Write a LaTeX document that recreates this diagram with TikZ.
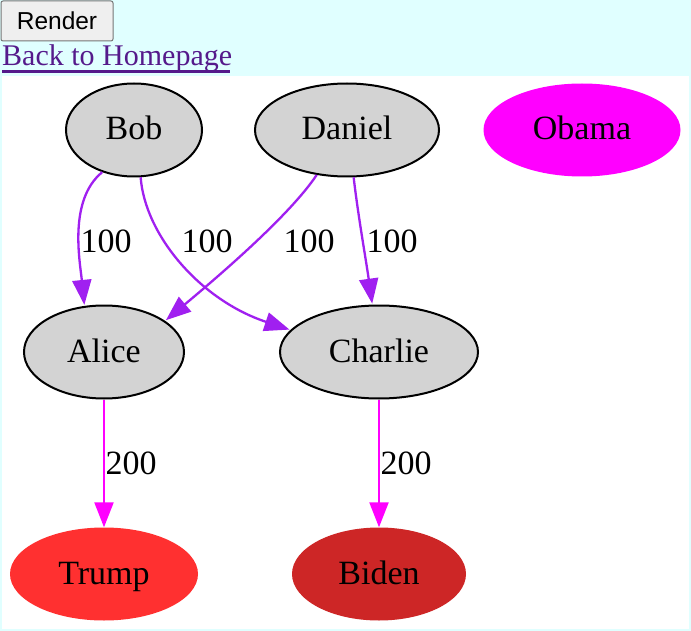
\documentclass[tikz,border=0pt]{standalone}
\usepackage{fontspec}
\setmainfont{Liberation Serif}
\newfontfamily\btnfont{Liberation Sans}
\usetikzlibrary{arrows.meta,shapes.geometric}
\definecolor{pagebg}{HTML}{E0FFFF}
\definecolor{nodegray}{HTML}{D3D3D3}
\definecolor{edgepurple}{HTML}{A020F0}
\definecolor{edgemag}{HTML}{FF00FF}
\definecolor{trumpred}{HTML}{FF3030}
\definecolor{bidenred}{HTML}{CD2626}
\definecolor{linkpurple}{HTML}{551A8B}
\definecolor{btnfill}{HTML}{EFEFEF}
\definecolor{btnborder}{HTML}{767676}
\tikzset{
  gnode/.style={ellipse, inner sep=0pt, minimum height=93pt, text height=25.5pt, text depth=5.5pt, font=\fontsize{34}{38}\selectfont, text=black},
  grayn/.style={gnode, draw=black, line width=2pt, fill=nodegray},
  filln/.style={gnode, draw=none},
  edgep/.style={draw=edgepurple, line width=2.3pt, -{Triangle[length=25pt,width=19pt]}, shorten >=1pt},
  edgem/.style={draw=edgemag, line width=2.3pt, -{Triangle[length=25pt,width=19pt]}},
  elabel/.style={inner sep=0pt, font=\fontsize{34}{38}\selectfont, text=black}
}
\begin{document}
\begin{tikzpicture}[x=1pt,y=-1pt]
\useasboundingbox (0,0) rectangle (691,631);
\fill[pagebg] (0,0) rectangle (691,631);
\fill[white] (2,76) rectangle (689,629);
% button and link
\node[draw=btnborder, fill=btnfill, rounded corners=2pt, line width=1pt, minimum width=112pt, minimum height=40pt, inner sep=0pt, font=\btnfont\fontsize{24.5}{28}\selectfont] (render) at (57,21) {Render};
\node[anchor=base west, inner sep=0pt, text=linkpurple, font=\fontsize{30}{34}\selectfont] (link) at (2,66) {Back to Homepage};
\fill[linkpurple] (link.base west) ++(0,4.5) rectangle ++(228,2.5);
% nodes
\node[grayn, minimum width=136pt] (Bob) at (134,130) {Bob};
\node[grayn, minimum width=184pt] (Daniel) at (347,130) {Daniel};
\node[filln, fill=edgemag, minimum width=197pt] (Obama) at (582,130) {Obama};
\node[grayn, minimum width=160pt] (Alice) at (104,352) {Alice};
\node[grayn, minimum width=198pt] (Charlie) at (379,352) {Charlie};
\node[filln, fill=trumpred, minimum width=188pt] (Trump) at (104,574) {Trump};
\node[filln, fill=bidenred, minimum width=174pt] (Biden) at (379,574) {Biden};
% edges
\draw[edgep] (Bob.-127) .. controls (68,200) and (80,262) .. (Alice.113);
\draw[edgep] (Bob.-82) .. controls (145,235) and (200,300) .. (Charlie.166);
\draw[edgep] (Daniel.-124) .. controls (290,215) and (220,275) .. (Alice.27);
\draw[edgep] (Daniel.-82) .. controls (358,215) and (366,260) .. (Charlie.98);
\draw[edgem] (Alice) -- (Trump);
\draw[edgem] (Charlie) -- (Biden);
% labels
\node[elabel] (l1) at (106,241) {100};
\node[elabel] (l2) at (207,241) {100};
\node[elabel] (l3) at (309,241) {100};
\node[elabel] (l4) at (392,241) {100};
\node[elabel] (l5) at (131,463) {200};
\node[elabel] (l6) at (406,463) {200};
\end{tikzpicture}
\end{document}
